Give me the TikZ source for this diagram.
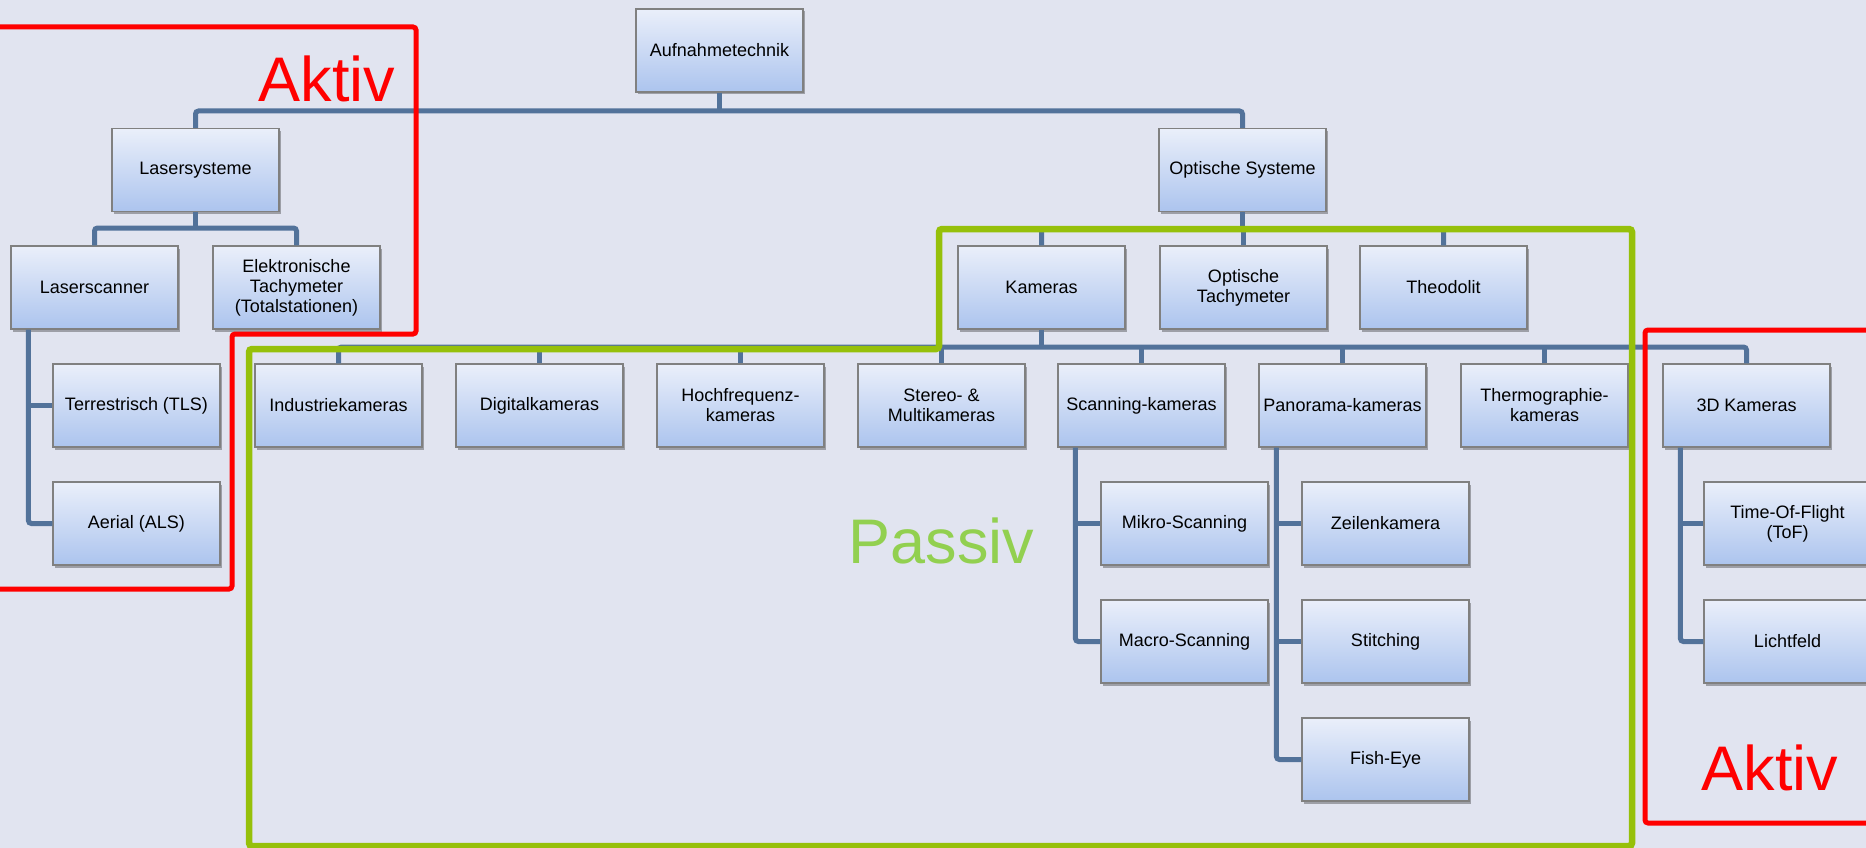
\documentclass[tikz,border=0pt]{standalone}
\usepackage{fontspec}
\setmainfont{Liberation Sans}
\usetikzlibrary{shadows,calc}
\definecolor{bg}{HTML}{E1E4F0}
\definecolor{conncol}{HTML}{52729A}
\definecolor{boxtop}{HTML}{EAEFFA}
\definecolor{boxbot}{HTML}{ACC4EE}
\definecolor{boxline}{HTML}{808080}
\definecolor{aktivred}{HTML}{FF0000}
\definecolor{passivline}{HTML}{96C00A}
\definecolor{passivtext}{HTML}{92D050}
\begin{document}
\begin{tikzpicture}[x=1pt,y=-1pt,
  box/.style={draw=boxline, line width=1.2pt, top color=boxtop, bottom color=boxbot,
    minimum width=167pt, minimum height=83pt, inner sep=2pt, align=center,
    font=\fontsize{18}{20}\selectfont,
    drop shadow={shadow xshift=1.5pt, shadow yshift=-2.5pt, opacity=0.3, fill=black}},
  conn/.style={draw=conncol, line width=5pt, rounded corners=3pt},
  redframe/.style={draw=aktivred, line width=5pt, rounded corners=3pt},
  greenframe/.style={draw=passivline, line width=6.5pt, rounded corners=3pt},
  big/.style={font=\fontsize{63}{70}\selectfont, anchor=base, inner sep=0pt}]
\useasboundingbox (0,0) rectangle (1866,848);
\clip (0,0) rectangle (1866,848);
\fill[bg] (0,0) rectangle (1866,848);

% nodes
\node[box] (auf) at (719.5,50.5) {Aufnahmetechnik};
\node[box] (lsys) at (195.5,170) {Lasersysteme};
\node[box] (osys) at (1242.5,170) {Optische Systeme};
\node[box] (lscan) at (94.5,287.5) {Laserscanner};
\node[box] (etach) at (296.5,287.5) {Elektronische\\Tachymeter\\(Totalstationen)};
\node[box] (kam) at (1041.5,287.5) {Kameras};
\node[box] (otach) at (1243.5,287.5) {Optische\\Tachymeter};
\node[box] (theo) at (1443.5,287.5) {Theodolit};
\node[box] (tls) at (136.5,405.5) {Terrestrisch (TLS)};
\node[box] (als) at (136.5,523.5) {Aerial (ALS)};
\node[box] (ind) at (338.5,405.5) {Industriekameras};
\node[box] (dig) at (539.5,405.5) {Digitalkameras};
\node[box] (hoch) at (740.5,405.5) {Hochfrequenz-\\kameras};
\node[box] (stereo) at (941.5,405.5) {Stereo- \&\\Multikameras};
\node[box] (scan) at (1141.5,405.5) {Scanning-kameras};
\node[box] (pano) at (1342.5,405.5) {Panorama-kameras};
\node[box] (thermo) at (1544.5,405.5) {Thermographie-\\kameras};
\node[box] (dreid) at (1746.5,405.5) {3D Kameras};
\node[box] (mikro) at (1184.5,523.5) {Mikro-Scanning};
\node[box] (macro) at (1184.5,641.5) {Macro-Scanning};
\node[box] (zeile) at (1385.5,523.5) {Zeilenkamera};
\node[box] (stitch) at (1385.5,641.5) {Stitching};
\node[box] (fish) at (1385.5,759.5) {Fish-Eye};
\node[box] (tof) at (1787.5,523.5) {Time-Of-Flight\\(ToF)};
\node[box] (licht) at (1787.5,641.5) {Lichtfeld};

% connectors
\coordinate (b1) at (719.5,111);
\coordinate (b2) at (195.5,228);
\coordinate (b3) at (1242.5,229);
\coordinate (b4) at (1041.5,347);
\coordinate (vls) at ($(lscan.south west)+(18,0)$);
\coordinate (vsc) at ($(scan.south west)+(18,0)$);
\coordinate (vpa) at ($(pano.south west)+(18,0)$);
\coordinate (v3d) at ($(dreid.south west)+(18,0)$);

\draw[conn] (auf.south) -- (b1);
\draw[conn] (lsys.north) |- (b1) -| (osys.north);
\draw[conn] (lsys.south) -- (b2);
\draw[conn] (lscan.north) |- (b2) -| (etach.north);
\draw[conn] (osys.south) -- (b3);
\draw[conn] (kam.north) |- (b3) -| (theo.north);
\draw[conn] (otach.north) -- (otach.north |- b3);
\draw[conn] (kam.south) -- (b4);
\draw[conn] (ind.north) |- (b4) -| (dreid.north);
\foreach \n in {dig,hoch,stereo,scan,pano,thermo}{
  \draw[conn] (\n.north) -- (\n.north |- b4);
}
\draw[conn] (vls) |- (als.west);
\draw[conn] (vls |- tls.west) -- (tls.west);
\draw[conn] (vsc) |- (macro.west);
\draw[conn] (vsc |- mikro.west) -- (mikro.west);
\draw[conn] (vpa) |- (fish.west);
\draw[conn] (vpa |- zeile.west) -- (zeile.west);
\draw[conn] (vpa |- stitch.west) -- (stitch.west);
\draw[conn] (v3d) |- (licht.west);
\draw[conn] (v3d |- tof.west) -- (tof.west);

% frames
\draw[greenframe] (249,846) -- (249,349) -- (939,349) -- (939,229) -- (1632,229) -- (1632,846) -- cycle;
\draw[redframe] (-10,27) -- (416,27) -- (416,334) -- (232,334) -- (232,589) -- (-10,589);
\draw[redframe] (1645,330) rectangle (1890,823);

% labels
\node[big, text=aktivred] (aktiv1) at (327,102) {Aktiv};
\node[big, text=aktivred] (aktiv2) at (1770,790) {Aktiv};
\node[big, text=passivtext] (passiv) at (941.5,563) {Passiv};
\end{tikzpicture}
\end{document}
